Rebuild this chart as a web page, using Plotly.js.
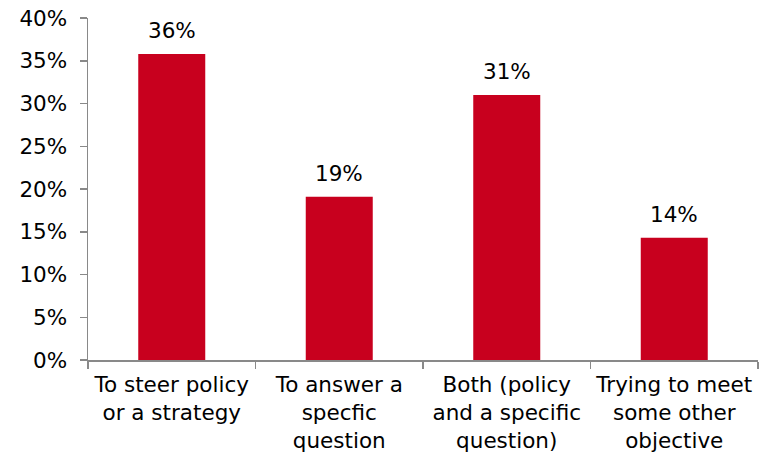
<!DOCTYPE html>
<html>
<head>
<meta charset="utf-8">
<script src="https://cdn.plot.ly/plotly-3.0.1.min.js"></script>
<style>html,body{margin:0;padding:0;background:#fff;}#chart{width:772px;height:455px;}</style>
</head>
<body>
<div id="chart"></div>
<script>
const categories = [
  "To steer policy<br>or a strategy",
  "To answer a<br>specfic<br>question",
  "Both (policy<br>and a specific<br>question)",
  "Trying to meet<br>some other<br>objective"
];
const values = [35.8, 19.1, 31.0, 14.3];
const valueLabels = ["36%", "19%", "31%", "14%"];
const yTickVals = [0, 5, 10, 15, 20, 25, 30, 35, 40];
const yTickText = ["0%", "5%", "10%", "15%", "20%", "25%", "30%", "35%", "40%"];

const FONT = "DejaVu Sans, Verdana, sans-serif";
const FS = 21.5;
const trace = {
  type: "bar",
  x: categories,
  y: values,
  marker: {color: "#c8001e"},
  hoverinfo: "none"
};
const annotations = categories.map((c, i) => ({
  x: c, y: values[i], text: valueLabels[i],
  xref: "x", yref: "y", showarrow: false,
  yanchor: "bottom", yshift: 9,
  font: {family: FONT, size: FS, color: "#000"}
}));
const layout = {
  width: 772, height: 455,
  margin: {l: 88, r: 14, t: 18, b: 95},
  paper_bgcolor: "#fff", plot_bgcolor: "#fff",
  bargap: 0.6,
  showlegend: false,
  font: {family: FONT, size: FS, color: "#000"},
  xaxis: {
    type: "category",
    showline: true, linecolor: "#898989", linewidth: 1.5,
    ticks: "outside", tickson: "boundaries", ticklen: 7, tickcolor: "#898989", tickwidth: 1.5,
    ticklabelstandoff: 5,
    showgrid: false, zeroline: false,
    tickfont: {family: FONT, size: FS, color: "#000"}
  },
  yaxis: {
    range: [0, 40],
    tickvals: yTickVals, ticktext: yTickText,
    showline: true, linecolor: "#898989", linewidth: 1.5,
    ticks: "outside", ticklen: 7, tickcolor: "#898989", tickwidth: 1.5,
    ticklabelstandoff: 8,
    showgrid: false, zeroline: false,
    tickfont: {family: FONT, size: FS, color: "#000"}
  },
  annotations: annotations
};
Plotly.newPlot("chart", [trace], layout, {displayModeBar: false, staticPlot: true});
</script>
</body>
</html>
